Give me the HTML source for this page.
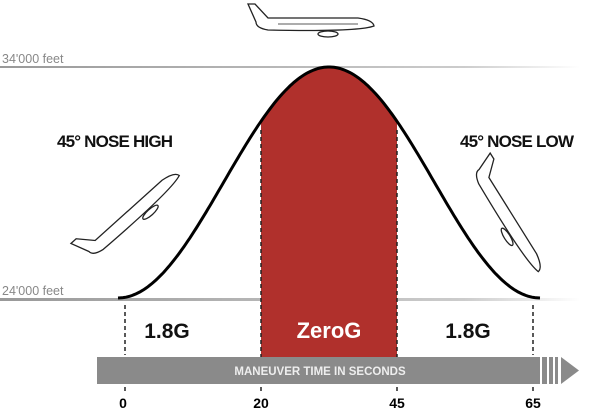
<!DOCTYPE html>
<html><head><style>
body{margin:0;background:#fff;width:600px;height:410px;overflow:hidden}
svg{display:block}
text{font-family:"Liberation Sans",sans-serif}
</style></head><body>
<svg id="s" width="600" height="410" viewBox="0 0 600 410">
<defs>
<linearGradient id="g1" x1="0" x2="1"><stop offset="0" stop-color="#999"/><stop offset="0.8" stop-color="#ccc"/><stop offset="1" stop-color="#fff"/></linearGradient>
</defs>
<rect x="0" y="66" width="580" height="2" fill="url(#g1)"/>
<rect x="0" y="298" width="580" height="3" fill="url(#g1)"/>
<text x="2" y="63" font-size="12.5" fill="#888">34'000 feet</text>
<text x="2" y="295" font-size="12.5" fill="#888">24'000 feet</text>
<path id="red" fill="#b0302c"/>
<path id="curve" fill="none" stroke="#000" stroke-width="3"/>
<g stroke="#222" stroke-width="1.5" stroke-dasharray="4,3">
<line x1="125" y1="305" x2="125" y2="355"/><line x1="533" y1="305" x2="533" y2="355"/>
<line x1="261" y1="130" x2="261" y2="357"/><line x1="397" y1="130" x2="397" y2="357"/>
<line x1="125" y1="387" x2="125" y2="393"/><line x1="261" y1="387" x2="261" y2="393"/><line x1="397" y1="387" x2="397" y2="393"/><line x1="533" y1="387" x2="533" y2="393"/>
</g>
<rect x="97" y="357" width="443" height="27" fill="#8a8a8a"/>
<rect x="542" y="357" width="5" height="27" fill="#8a8a8a"/>
<rect x="549" y="357" width="4" height="27" fill="#8a8a8a"/>
<rect x="555" y="357" width="3" height="27" fill="#8a8a8a"/>
<polygon points="561,357 579,370.5 561,384" fill="#8a8a8a"/>
<text x="320" y="375" font-size="11.5" font-weight="bold" fill="#eee" text-anchor="middle">MANEUVER TIME IN SECONDS</text>
<text x="167" y="338" font-size="21" font-weight="bold" text-anchor="middle" fill="#111">1.8G</text>
<text x="468" y="338" font-size="21" font-weight="bold" text-anchor="middle" fill="#111">1.8G</text>
<text x="329" y="338" font-size="22" font-weight="bold" text-anchor="middle" fill="#fff">ZeroG</text>
<text x="123" y="408" font-size="14" font-weight="bold" text-anchor="middle">0</text>
<text x="261" y="408" font-size="14" font-weight="bold" text-anchor="middle">20</text>
<text x="397" y="408" font-size="14" font-weight="bold" text-anchor="middle">45</text>
<text x="533" y="408" font-size="14" font-weight="bold" text-anchor="middle">65</text>
<text x="57" y="147" font-size="17" font-weight="bold" fill="#111" textLength="116">45° NOSE HIGH</text>
<text x="460" y="147" font-size="17" font-weight="bold" fill="#111" textLength="114">45° NOSE LOW</text>
<g fill="#fff" stroke="#222" stroke-width="1.3">
<g transform="translate(318,22)">
<path d="M-62,0 L-70,-18 L-63,-18 L-50,-4 L40,-4 Q55,-2 56,4 Q40,10 -50,8 Q-62,6 -62,0Z"/>
<ellipse cx="10" cy="12" rx="10" ry="3"/>
<line x1="-40" y1="2" x2="40" y2="2" stroke-width="0.8"/>
</g>
<g transform="translate(135,210) rotate(-42)">
<path d="M-62,0 L-70,-18 L-63,-18 L-50,-4 L40,-4 Q55,-2 56,4 Q40,10 -50,8 Q-62,6 -62,0Z"/>
<ellipse cx="10" cy="12" rx="10" ry="3"/>
</g>
<g transform="translate(512,222) rotate(58)">
<path d="M-62,0 L-70,-18 L-63,-18 L-50,-4 L40,-4 Q55,-2 56,4 Q40,10 -50,8 Q-62,6 -62,0Z"/>
<ellipse cx="10" cy="12" rx="10" ry="3"/>
</g>
</g>
</svg>
<script>
function y(x){return 298-231*(1+Math.cos(Math.PI*(x-329)/211))/2;}
var d="M118,298";for(var x=118;x<=540;x+=2){d+=" L"+x+","+y(x).toFixed(1);}
document.getElementById("curve").setAttribute("d",d);
var r="M261,357";for(var x=261;x<=397;x+=2){r+=" L"+x+","+y(x).toFixed(1);}r+=" L397,"+y(397).toFixed(1)+" L397,357Z";
document.getElementById("red").setAttribute("d",r);
</script>
</body></html>
